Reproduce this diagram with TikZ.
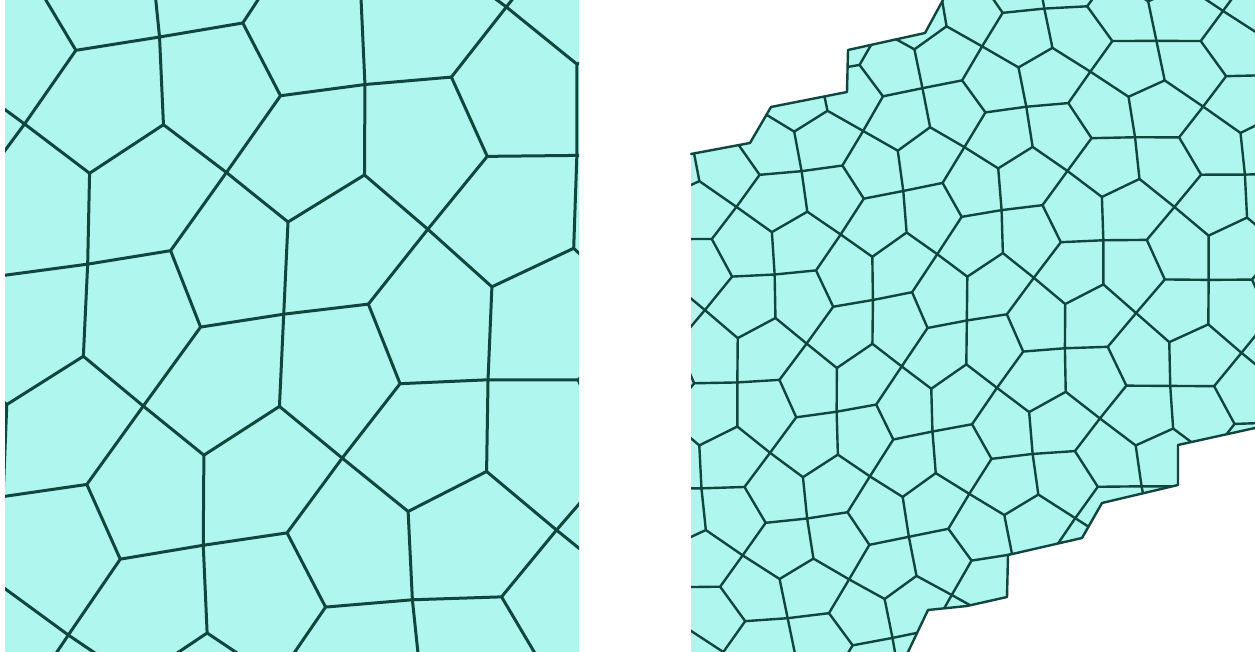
\documentclass[tikz,border=0pt]{standalone}
\definecolor{tilefill}{HTML}{AEF6EE}
\definecolor{tileline}{HTML}{10463E}
\newcommand\amp{0.13}
\newcommand\ka{50}
\newcommand\kb{20}
\newcommand\kc{45}
\newcommand\kd{25}
\newcommand\dd{0.27}
\newcommand\tilecell[2]{%
  \pgfmathtruncatemacro\cpar{mod(#1+#2+200,2)}%
  \coordinate (A) at ({wx(#1,#2)},{wy(#1,#2)});
  \coordinate (B) at ({wx(#1+1,#2)},{wy(#1+1,#2)});
  \coordinate (C) at ({wx(#1+1,#2+1)},{wy(#1+1,#2+1)});
  \coordinate (D) at ({wx(#1,#2+1)},{wy(#1,#2+1)});
  \ifnum\cpar=0
    \coordinate (P) at ({wx(#1+0.5-\dd,#2+0.5)},{wy(#1+0.5-\dd,#2+0.5)});
    \coordinate (Q) at ({wx(#1+0.5+\dd,#2+0.5)},{wy(#1+0.5+\dd,#2+0.5)});
    \draw[edge] (A) -- (P) -- (D) (P) -- (Q) (B) -- (Q) -- (C);
  \else
    \coordinate (P) at ({wx(#1+0.5,#2+0.5-\dd)},{wy(#1+0.5,#2+0.5-\dd)});
    \coordinate (Q) at ({wx(#1+0.5,#2+0.5+\dd)},{wy(#1+0.5,#2+0.5+\dd)});
    \draw[edge] (A) -- (P) -- (B) (P) -- (Q) (D) -- (Q) -- (C);
  \fi}
\begin{document}
\begin{tikzpicture}[x=1pt,y=1pt,
  declare function={wx(\x,\y)=\x+\amp*sin(\ka*\y+\kb*\x);
                    wy(\x,\y)=\y+\amp*sin(\kc*\x-\kd*\y+40);},
  edge/.style={draw=tileline,line width=3pt,line cap=round,line join=round},
  thinedge/.style={draw=tileline,line width=2.4pt,line cap=round,line join=round}]
\useasboundingbox (0,0) rectangle (1255,652);
\fill[white] (0,0) rectangle (1255,652);
% left panel
\begin{scope}
  \clip (5,0) rectangle (579,652);
  \fill[tilefill] (5,0) rectangle (579,652);
  \begin{scope}[shift={(290,326)},x={(141.27pt,75.12pt)},y={(-75.12pt,141.27pt)}]
    \foreach \i in {-4,...,3}{\foreach \j in {-4,...,3}{\tilecell{\i}{\j}}}
  \end{scope}
\end{scope}
% right panel
\begin{scope}
  \clip (691,498) -- (750,509) -- (771,545) -- (847,560) -- (848,602) -- (925,619)
    -- (943,652) -- (1255,652) -- (1255,224) -- (1178,207) -- (1178,167) -- (1102,149)
    -- (1082,114) -- (1008,97) -- (1007,55) -- (967,46) -- (928,42) -- (908,0)
    -- (691,0) -- cycle;
  \fill[tilefill] (691,0) rectangle (1255,652);
  \begin{scope}[shift={(970,326)},x={(65.82pt,38pt)},y={(-38pt,65.82pt)},
      edge/.style={thinedge}]
    \foreach \i in {-7,...,6}{\foreach \j in {-7,...,6}{\tilecell{\i}{\j}}}
  \end{scope}
\end{scope}
\draw[thinedge] (691,498) -- (750,509) -- (771,545) -- (847,560) -- (848,602)
  -- (925,619) -- (943,652);
\draw[thinedge] (1255,224) -- (1178,207) -- (1178,167) -- (1102,149) -- (1082,114)
  -- (1008,97) -- (1007,55) -- (967,46) -- (928,42) -- (908,0);
\end{tikzpicture}
\end{document}
